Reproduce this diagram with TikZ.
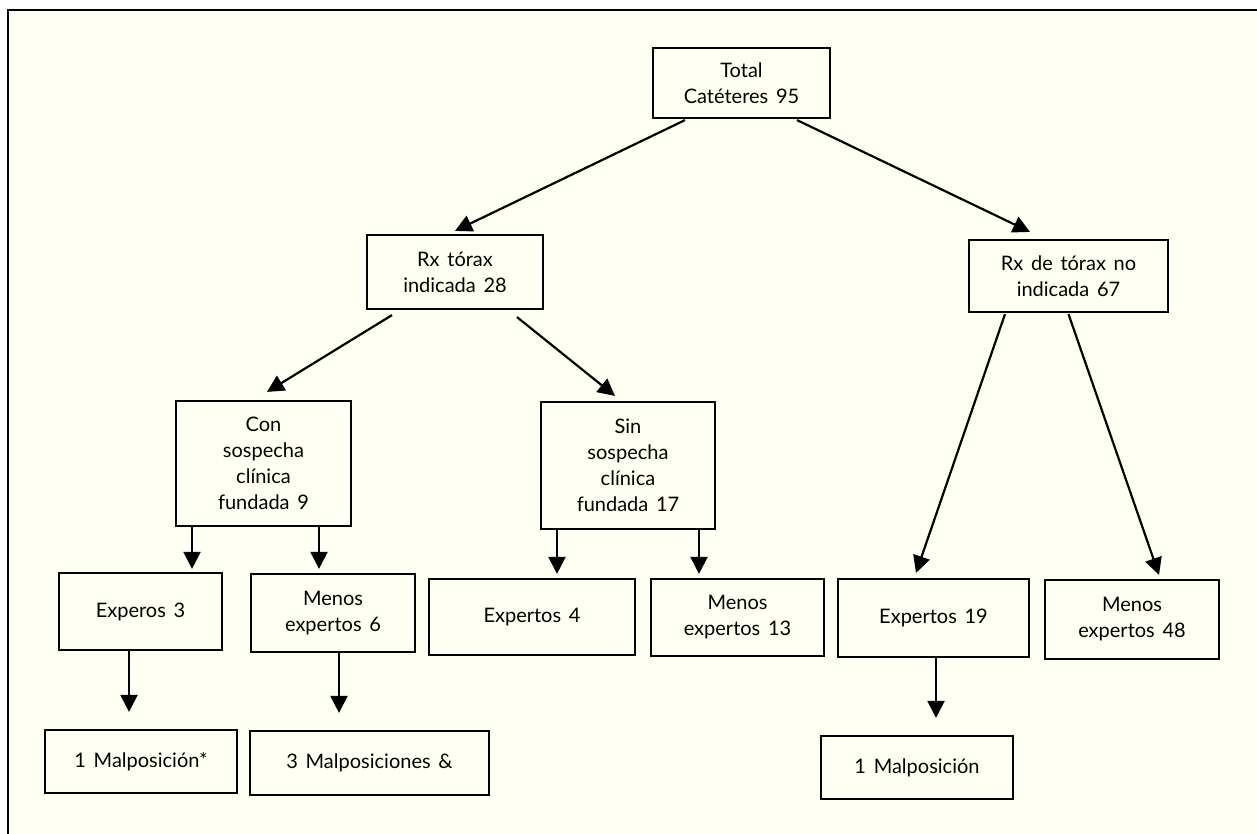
\documentclass[tikz,border=0pt]{standalone}
\usepackage{fontspec}
\setmainfont{Lato}[WordSpace=1.5]
\usetikzlibrary{arrows.meta}
\definecolor{cream}{RGB}{255,255,244}
\begin{document}
\begin{tikzpicture}[x=1pt, y=-1pt,
	box/.style={draw, line width=2.2pt, fill=cream, align=center, inner sep=2pt,
		font=\fontsize{20}{26}\selectfont},
	arr/.style={line width=2.2pt, -{Triangle[length=17pt, width=17pt]}}]
			\useasboundingbox (0,0) rectangle (1257,834);
			%page and frame
			\fill[white] (0,0) rectangle (1257,834);
			\fill[cream] (8,10) rectangle (1257,834);
			\draw[line width=2.2pt] (8,834) -- (8,10) -- (1257,10);
			
			%first level
			\node[box, minimum width=177pt, minimum height=70pt] (tot) at (741.5, 83){Total\\Catéteres 95};
			\node[box, minimum width=176pt, minimum height=74pt] (rxi) at (455, 272){Rx tórax\\indicada 28};
			\node[box, minimum width=199pt, minimum height=72pt] (rxn) at (1068.5, 276){Rx de tórax no\\indicada 67};
			
			%second level
			\node[box, minimum width=175pt, minimum height=125pt] (con) at (263.5, 463.5){Con\\sospecha\\clínica\\fundada 9};
			\node[box, minimum width=174pt, minimum height=127pt] (sin) at (628, 465.5){Sin\\sospecha\\clínica\\fundada 17};
			
			%expert boxes
			\node[box, minimum width=163pt, minimum height=77pt] (exptres) at (140.5, 611.5){Experos 3};
			\node[box, minimum width=164pt, minimum height=78pt] (menseis) at (333, 613){Menos\\expertos 6};
			\node[box, minimum width=206pt, minimum height=76pt] (expcuatro) at (532, 617){Expertos 4};
			\node[box, minimum width=173pt, minimum height=77pt] (mentrece) at (737.5, 617.5){Menos\\expertos 13};
			\node[box, minimum width=191pt, minimum height=78pt] (expdiecinueve) at (933.5, 618){Expertos 19};
			\node[box, minimum width=174pt, minimum height=79pt] (mencuarentayocho) at (1132, 619.5){Menos\\expertos 48};
			
			%malposiciones
			\node[box, minimum width=192pt, minimum height=63pt] (malA) at (141, 761.5){1 Malposición*};
			\node[box, minimum width=239pt, minimum height=64pt] (malB) at (369.5, 763){3 Malposiciones \&};
			\node[box, minimum width=192pt, minimum height=63pt] (malC) at (917, 767.5){1 Malposición};
			
			%arrows
			\draw[arr] ([xshift=-56.5pt, yshift=-1pt]tot.south) -- ([yshift=3pt]rxi.north);
			\draw[arr] ([xshift=55.5pt, yshift=-1pt]tot.south) -- ([xshift=-38.5pt, yshift=7pt]rxn.north);
			\draw[arr] ([xshift=-63pt, yshift=-5pt]rxi.south) -- ([xshift=3.5pt, yshift=8pt]con.north);
			\draw[arr] ([xshift=62pt, yshift=-7pt]rxi.south) -- ([xshift=-13pt, yshift=5pt]sin.north);
			\draw[arr] ([xshift=-63.5pt, yshift=-1pt]rxn.south) -- ([xshift=-17.5pt, yshift=5pt]expdiecinueve.north);
			\draw[arr] ([yshift=-1pt]rxn.south) -- ([xshift=27pt, yshift=4pt]mencuarentayocho.north);
			\draw[arr] ([xshift=-71.5pt]con.south) -- ([xshift=51.5pt, yshift=3pt]exptres.north);
			\draw[arr] ([xshift=55.5pt]con.south) -- ([xshift=-14pt, yshift=4pt]menseis.north);
			\draw[arr] ([xshift=-71pt]sin.south) -- ([xshift=25pt, yshift=4pt]expcuatro.north);
			\draw[arr] ([xshift=71pt]sin.south) -- ([xshift=-38.5pt, yshift=4pt]mentrece.north);
			\draw[arr] ([xshift=-11.5pt]exptres.south) -- ([xshift=-12pt, yshift=17pt]malA.north);
			\draw[arr] ([xshift=6pt]menseis.south) -- ([xshift=-30.5pt, yshift=17pt]malB.north);
			\draw[arr] ([xshift=2.5pt]expdiecinueve.south) -- ([xshift=19pt, yshift=17pt]malC.north);
		\end{tikzpicture}
\end{document}
